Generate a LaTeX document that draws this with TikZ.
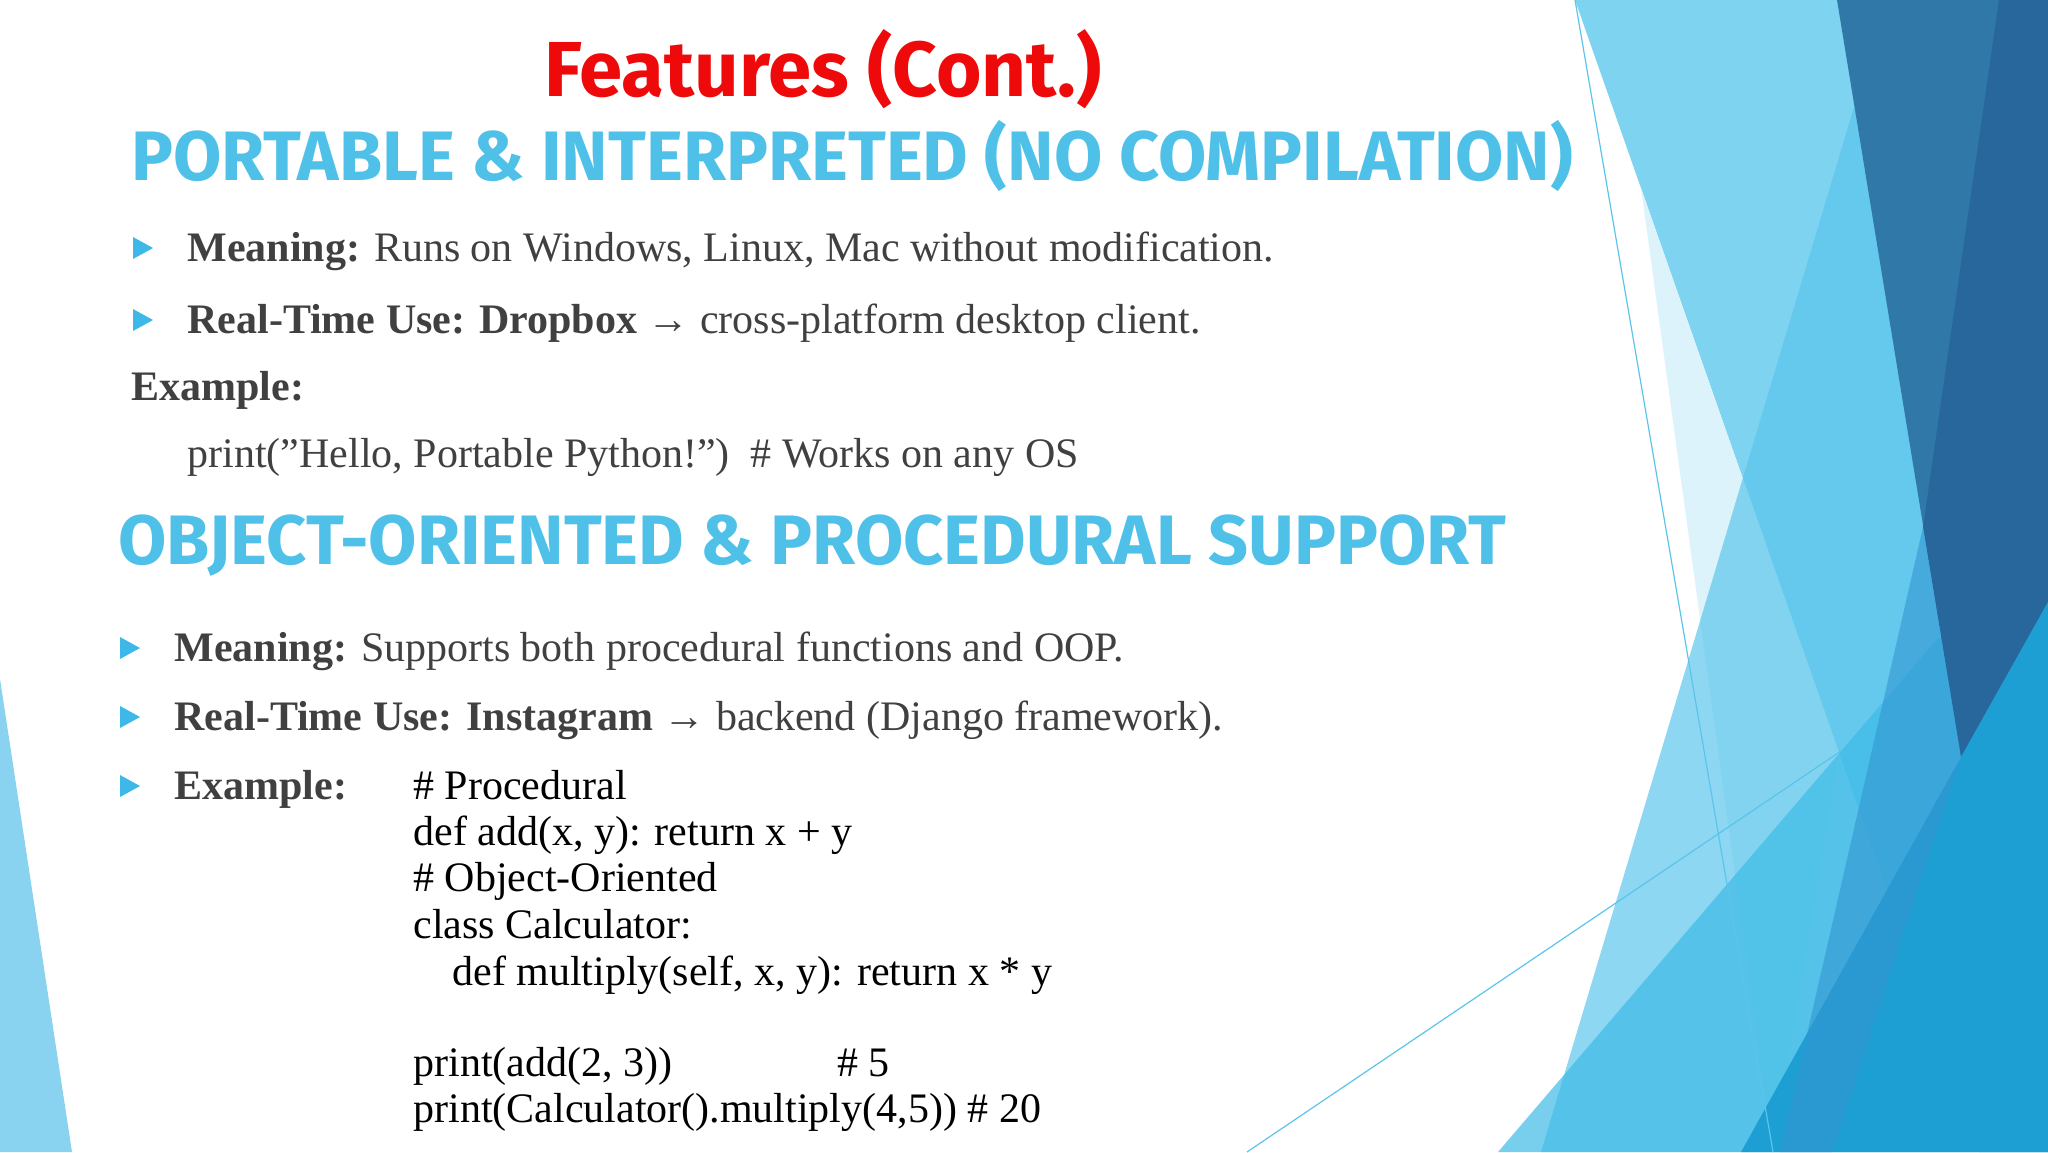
\documentclass[tikz,border=0pt]{standalone}
\usepackage{fontspec}
\setmainfont[Ligatures=Common]{Liberation Serif}
\newfontfamily\headfont{Fira Sans}
\begin{document}
\begin{tikzpicture}[x=0.5pt,y=-0.5pt,
  body/.style={anchor=base west,inner sep=0pt,text=black!75,font=\fontsize{21}{24}\selectfont},
  code/.style={anchor=base west,inner sep=0pt,text=black,font=\fontsize{21}{24}\selectfont},
  head/.style={anchor=base west,inner sep=0pt,text=headblue,font=\headfont\bfseries\fontsize{35}{38}\selectfont},
  tri/.style={fill=bulletblue}]
\definecolor{headblue}{HTML}{4FC1E9}
\definecolor{bulletblue}{HTML}{3DB8E8}
\definecolor{titlered}{HTML}{EE0A0A}
\useasboundingbox (0,0) rectangle (2048,1152);
% decoration
\fill[color={rgb,255:red,125;green,211;blue,240}] (1575,0)--(2048,0)--(2048,1152)--(1979,1152)--cycle;
\fill[color={rgb,255:red,221;green,243;blue,251}] (1641,188)--(1839,753)--(1773,1152)--cycle;
\fill[color={rgb,255:red,92;green,198;blue,236},opacity=.7] (1886,0)--(2048,0)--(2048,1152)--(1541,1152)--cycle;
\fill[color={rgb,255:red,61;green,187;blue,230},opacity=.7] (1498,1152)--(1937,639)--(2048,602)--(2048,1152)--cycle;
\fill[color={rgb,255:red,47;green,120;blue,168}] (1837,0)--(2048,0)--(2048,602)--(1961,757)--cycle;
\fill[color={rgb,255:red,39;green,103;blue,156}] (1999,0)--(2048,0)--(2048,602)--(1961,757)--(1923,527)--cycle;
\fill[color={rgb,255:red,30;green,159;blue,212}] (1961,757)--(2048,602)--(2048,1152)--(1741,1152)--cycle;
\fill[color={rgb,255:red,50;green,150;blue,210},opacity=.6] (1923,527)--(1961,757)--(1832,1152)--(1780,1152)--cycle;
\draw[color={rgb,255:red,91;green,196;blue,234},line width=0.6pt] (1575,0)--(1773,1152);
\draw[color={rgb,255:red,91;green,196;blue,234},line width=0.6pt] (1247,1152)--(1841,751);
\fill[color={rgb,255:red,138;green,211;blue,240}] (0,679)--(72,1152)--(0,1152)--cycle;
% title
\node[anchor=center,inner sep=0pt,text=titlered,font=\headfont\bfseries\fontsize{39}{44}\selectfont] (title) at (823,69) {Features (Cont.)};
\node[head] (h1) at (131,180) {PORTABLE \& INTERPRETED (NO COMPILATION)};
\fill[tri] (133,237)--(153,248)--(133,259)--cycle;
\node[body] (b1) at (187,261) {\textbf{Meaning:} Runs on Windows, Linux, Mac without modification.};
\fill[tri] (133,309)--(153,320)--(133,331)--cycle;
\node[body] (b2) at (187,333) {\textbf{Real-Time Use: Dropbox} → cross-platform desktop client.};
\node[body] (ex1) at (131,400) {\textbf{Example:}};
\node[body] (c0) at (187,467) {print("Hello, Portable Python!")\ \ \# Works on any OS};
\node[head] (h2) at (118,564) {OBJECT-ORIENTED \& PROCEDURAL SUPPORT};
\fill[tri] (120,637)--(140,648)--(120,659)--cycle;
\node[body] (d1) at (174,661) {\textbf{Meaning:} Supports both procedural functions and OOP.};
\fill[tri] (120,706)--(140,717)--(120,728)--cycle;
\node[body] (d2) at (174,730) {\textbf{Real-Time Use: Instagram} → backend (Django framework).};
\fill[tri] (120,775)--(140,786)--(120,797)--cycle;
\node[body] (ex2) at (174,799) {\textbf{Example:}};
\node[code] (k1) at (413,799) {\# Procedural};
\node[code] (k2) at (413,845) {def add(x, y): return x + y};
\node[code] (k3) at (413,891) {\# Object-Oriented};
\node[code] (k4) at (413,938) {class Calculator:};
\node[code] (k5) at (452,985) {def multiply(self, x, y): return x * y};
\node[code] (k6) at (413,1076) {print(add(2, 3))};
\node[code] (k6b) at (837,1076) {\# 5};
\node[code] (k7) at (413,1122) {print(Calculator().multiply(4,5)) \# 20};
\end{tikzpicture}
\end{document}
